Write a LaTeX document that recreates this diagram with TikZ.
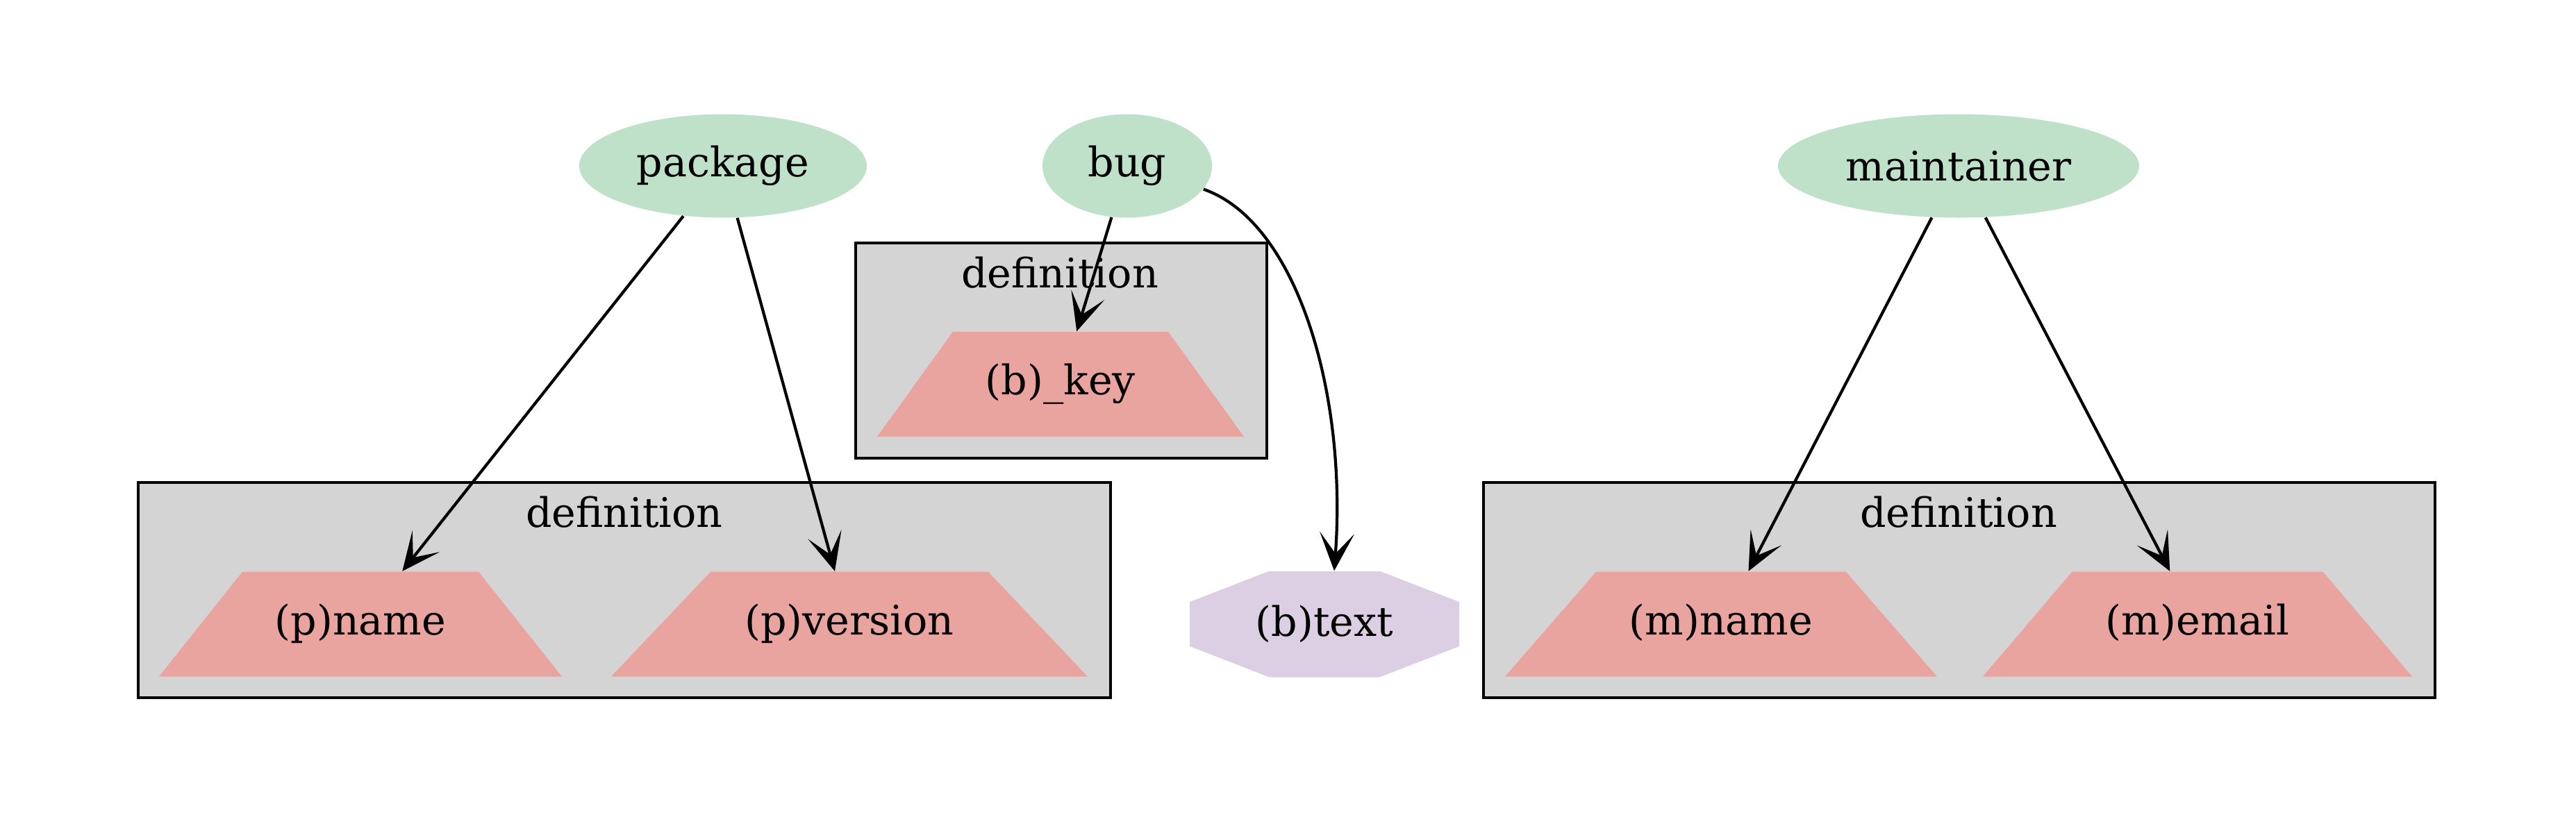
\documentclass[tikz,border=0pt]{standalone}
\usepackage{fontspec}
\setmainfont{DejaVu Serif}
\usetikzlibrary{shapes.geometric, arrows.meta}
\definecolor{entitygreen}{HTML}{BFE1C9}
\definecolor{attrred}{HTML}{EAA49F}
\definecolor{textlilac}{HTML}{DCCFE4}
\tikzstyle{entity} = [ellipse, minimum height=1.49cm, inner sep=0pt, text centered, fill=entitygreen]
\tikzstyle{attr} = [trapezium, trapezium stretches body, text height=0.45cm, text depth=0.15cm, inner xsep=0pt, inner ysep=0.455cm, text centered, fill=attrred]
\tikzstyle{cluster} = [rectangle, minimum height=3.10cm, draw=black, line width=1.2pt, fill=black!17]
\tikzstyle{arrow} = [line width=1.2pt, -{Stealth[length=0.55cm, width=0.5cm, inset=0.3cm]}]

\begin{document}
\begin{tikzpicture}[font=\fontsize{16.7}{20}\selectfont]

    \useasboundingbox (0,0) rectangle (37.09,-12.09);

    % clusters
    \node (defbug) [cluster, minimum width=5.92cm] at (15.28,-5.05) {};
    \node (defpkg) [cluster, minimum width=14.00cm] at (8.99,-8.50) {};
    \node (defmnt) [cluster, minimum width=13.70cm] at (28.21,-8.50) {};
    \node (lblbug) at (15.26,-3.93) {definition};
    \node (lblpkg) at (8.99,-7.38) {definition};
    \node (lblmnt) at (28.20,-7.38) {definition};

    % entities
    \node (package) [entity, minimum width=4.14cm] at (10.41,-2.39) {package};
    \node (bug) [entity, minimum width=2.44cm] at (16.23,-2.39) {bug};
    \node (maintainer) [entity, minimum width=5.20cm] at (28.20,-2.39) {maintainer};

    % attributes
    \node (bkey) [attr, minimum width=5.28cm, trapezium angle=54.2] at (15.27,-5.535) {(b)\_key};
    \node (pname) [attr, minimum width=5.80cm, trapezium angle=51.5] at (5.19,-8.99) {(p)name};
    \node (pversion) [attr, minimum width=6.86cm, trapezium angle=46.5] at (12.23,-8.99) {(p)version};
    \node (mname) [attr, minimum width=6.22cm, trapezium angle=49] at (24.78,-8.99) {(m)name};
    \node (memail) [attr, minimum width=6.18cm, trapezium angle=49.6] at (31.64,-8.99) {(m)email};
    \node (btext) [rectangle, minimum width=3.88cm, minimum height=1.52cm, inner sep=0pt,
        path picture={\fill[textlilac] ([xshift=1.16cm]btext.north west) -- ([xshift=-1.16cm]btext.north east)
            -- ([yshift=-0.45cm]btext.north east) -- ([yshift=0.45cm]btext.south east)
            -- ([xshift=-1.16cm]btext.south east) -- ([xshift=1.16cm]btext.south west)
            -- ([yshift=0.45cm]btext.south west) -- ([yshift=-0.45cm]btext.north west) -- cycle;}]
        at (19.07,-8.99) {(b)text};

    \draw [arrow] (package) -- (pname);
    \draw [arrow] (package) -- (pversion);
    \draw [arrow] (bug) -- (bkey);
    \draw [arrow] (bug.-17) .. controls +(1.35,-0.47) and +(0.19,2.55) .. ([xshift=0.14cm]btext.north);
    \draw [arrow] (maintainer) -- (mname);
    \draw [arrow] (maintainer) -- (memail);

\end{tikzpicture}
\end{document}
